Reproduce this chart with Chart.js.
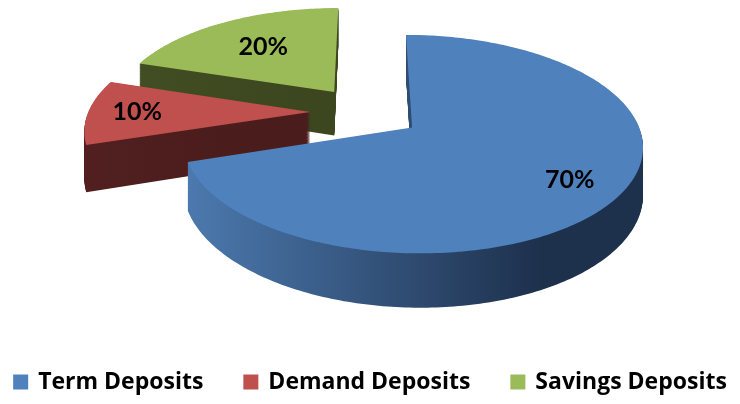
<!DOCTYPE html>
<html>
<head>
<meta charset="utf-8">
<script src="https://cdn.jsdelivr.net/npm/chart.js@4/dist/chart.umd.min.js"></script>
<style>
  html, body { margin: 0; padding: 0; background: #fff; }
  canvas { display: block; }
</style>
</head>
<body>
<canvas id="depositChart" width="740" height="404"></canvas>
<script>
const categories = ['Term Deposits', 'Demand Deposits', 'Savings Deposits'];
const shares = [70, 10, 20];
const topColors = ['#4f81bd', '#c0504d', '#9bbb59'];
// side walls: [left, right] of a horizontal gradient
const sideColors = [['#4c79ae', '#1d304c'], ['#511f1f', '#4a1c1c'], ['#414d22', '#3c4720']];
const labelRadius = [0.78, 0.78, 0.62];

// tilted, extruded pie drawn from the arc elements the doughnut controller lays out
const pie3d = {
  id: 'pie3d',
  beforeDatasetsDraw(chart, args, opts) {
    const ctx = chart.ctx;
    const arcs = chart.getDatasetMeta(0).data;
    const cx = arcs[0].x, cy = arcs[0].y - opts.lift;
    const { rx, ry, depth, persp, steps } = opts;

    const proj = (u, v, z) => {
      const d = 1 + persp * v;
      return [cx + u * rx / d, cy + (-v * ry + z * depth) / d];
    };

    const geo = arcs.map((arc, i) => {
      const mid = (arc.startAngle + arc.endAngle) / 2;
      const k = arc.options.offset / arc.outerRadius;
      return { arc, i, mid, ou: k * Math.cos(mid), ov: -k * Math.sin(mid) };
    });

    const outline = (g, z) => {
      const { arc, ou, ov } = g;
      const span = arc.endAngle - arc.startAngle;
      const n = Math.max(12, Math.ceil(span * 60));
      const pts = [proj(ou, ov, z)];
      for (let j = 0; j <= n; j++) {
        const a = arc.startAngle + span * j / n;
        pts.push(proj(ou + Math.cos(a), ov - Math.sin(a), z));
      }
      return pts;
    };

    const fillPts = (pts, style) => {
      ctx.beginPath();
      pts.forEach((p, j) => j ? ctx.lineTo(p[0], p[1]) : ctx.moveTo(p[0], p[1]));
      ctx.closePath();
      ctx.fillStyle = style;
      ctx.fill();
    };

    ctx.save();
    // far slices first
    const order = geo.slice().sort((a, b) => b.ov - a.ov);
    order.forEach(g => {
      const top = outline(g, 0);
      const xs = top.map(p => p[0]);
      const x0 = Math.min(...xs), x1 = Math.max(...xs);
      const grad = ctx.createLinearGradient(x0, 0, x1, 0);
      const [c0, c1] = sideColors[g.i];
      grad.addColorStop(0, c0);
      grad.addColorStop(0.78, c1);
      grad.addColorStop(1, c1);
      for (let s = steps; s > 0; s--) {
        fillPts(outline(g, s / steps), grad);
      }
      fillPts(top, topColors[g.i]);
    });

    const total = shares.reduce((a, b) => a + b, 0);
    ctx.fillStyle = '#000';
    ctx.font = 'bold 25px Lato';
    ctx.textAlign = 'center';
    ctx.textBaseline = 'middle';
    geo.forEach(g => {
      const f = labelRadius[g.i];
      const p = proj(g.ou + f * Math.cos(g.mid), g.ov - f * Math.sin(g.mid), 0);
      ctx.fillText(Math.round(shares[g.i] / total * 100) + '%', p[0], p[1]);
    });
    ctx.restore();
    return false;
  }
};

// single-row legend along the bottom, items from the pie's own label generator
const bottomLegend = {
  id: 'bottomLegend',
  afterDraw(chart, args, opts) {
    const ctx = chart.ctx;
    const items = Chart.overrides.pie.plugins.legend.labels.generateLabels(chart);
    ctx.save();
    ctx.font = `bold ${opts.size}px "Open Sans"`;
    ctx.textBaseline = 'middle';
    const widths = items.map(it => opts.box + opts.gap + ctx.measureText(it.text).width);
    const rowW = widths.reduce((a, b) => a + b, 0) + opts.spacing * (items.length - 1);
    let x = (chart.width - rowW) / 2;
    items.forEach((it, i) => {
      ctx.fillStyle = it.fillStyle;
      ctx.fillRect(x, opts.y - opts.box / 2, opts.box, opts.box);
      ctx.fillStyle = '#000';
      ctx.fillText(it.text, x + opts.box + opts.gap, opts.y);
      x += widths[i] + opts.spacing;
    });
    ctx.restore();
  }
};

new Chart(document.getElementById('depositChart'), {
  type: 'pie',
  data: {
    labels: categories,
    datasets: [{
      data: shares,
      backgroundColor: topColors,
      borderWidth: 0,
      offset: 37,
      hoverOffset: 0
    }]
  },
  options: {
    responsive: false,
    animation: false,
    events: [],
    layout: { padding: { right: 8, bottom: 72 } },
    plugins: {
      tooltip: { enabled: false },
      legend: { display: false },
      pie3d: { rx: 222, ry: 102, depth: 45, persp: 0.15, steps: 60, lift: 54 },
      bottomLegend: { y: 382, box: 15, gap: 10, spacing: 40, size: 23 }
    }
  },
  plugins: [pie3d, bottomLegend]
});
</script>
</body>
</html>
